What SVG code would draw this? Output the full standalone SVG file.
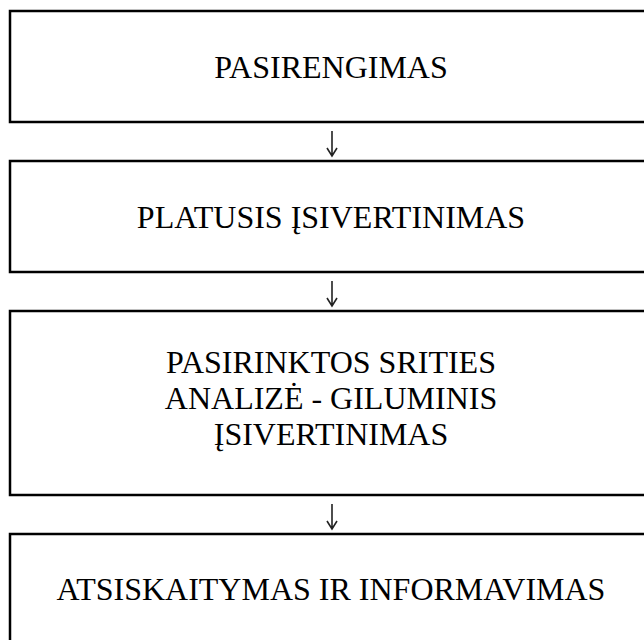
<svg xmlns="http://www.w3.org/2000/svg" width="644" height="640" viewBox="0 0 644 640">
<style>
.box{fill:#fff;stroke:#000;stroke-width:2.5}
.t{font-family:"Liberation Serif","Times New Roman",serif;font-size:32px;fill:#000;text-anchor:middle}
.c{fill:none;stroke:#222;stroke-width:1.6}
</style>
<rect width="644" height="640" fill="#fff"/>
<g id="n1"><rect class="box" x="10" y="11" width="642" height="111"/><text class="t" x="331" y="78">PASIRENGIMAS</text></g>
<g id="n2"><rect class="box" x="10" y="161" width="642" height="111"/><text class="t" x="331" y="228">PLATUSIS ĮSIVERTINIMAS</text></g>
<g id="n3"><rect class="box" x="10" y="311" width="642" height="184"/><text class="t" x="331" y="373">PASIRINKTOS SRITIES</text><text class="t" x="331" y="409">ANALIZĖ - GILUMINIS</text><text class="t" x="331" y="445">ĮSIVERTINIMAS</text></g>
<g id="n4"><rect class="box" x="10" y="534" width="642" height="120"/><text class="t" x="331" y="600">ATSISKAITYMAS IR INFORMAVIMAS</text></g>
<g id="connectors">
<path class="c" d="M332 131V155M327 148L332 156L337 148"/>
<path class="c" d="M332 281V305M327 298L332 306L337 298"/>
<path class="c" d="M332 504V528M327 521L332 529L337 521"/>
</g>
</svg>
